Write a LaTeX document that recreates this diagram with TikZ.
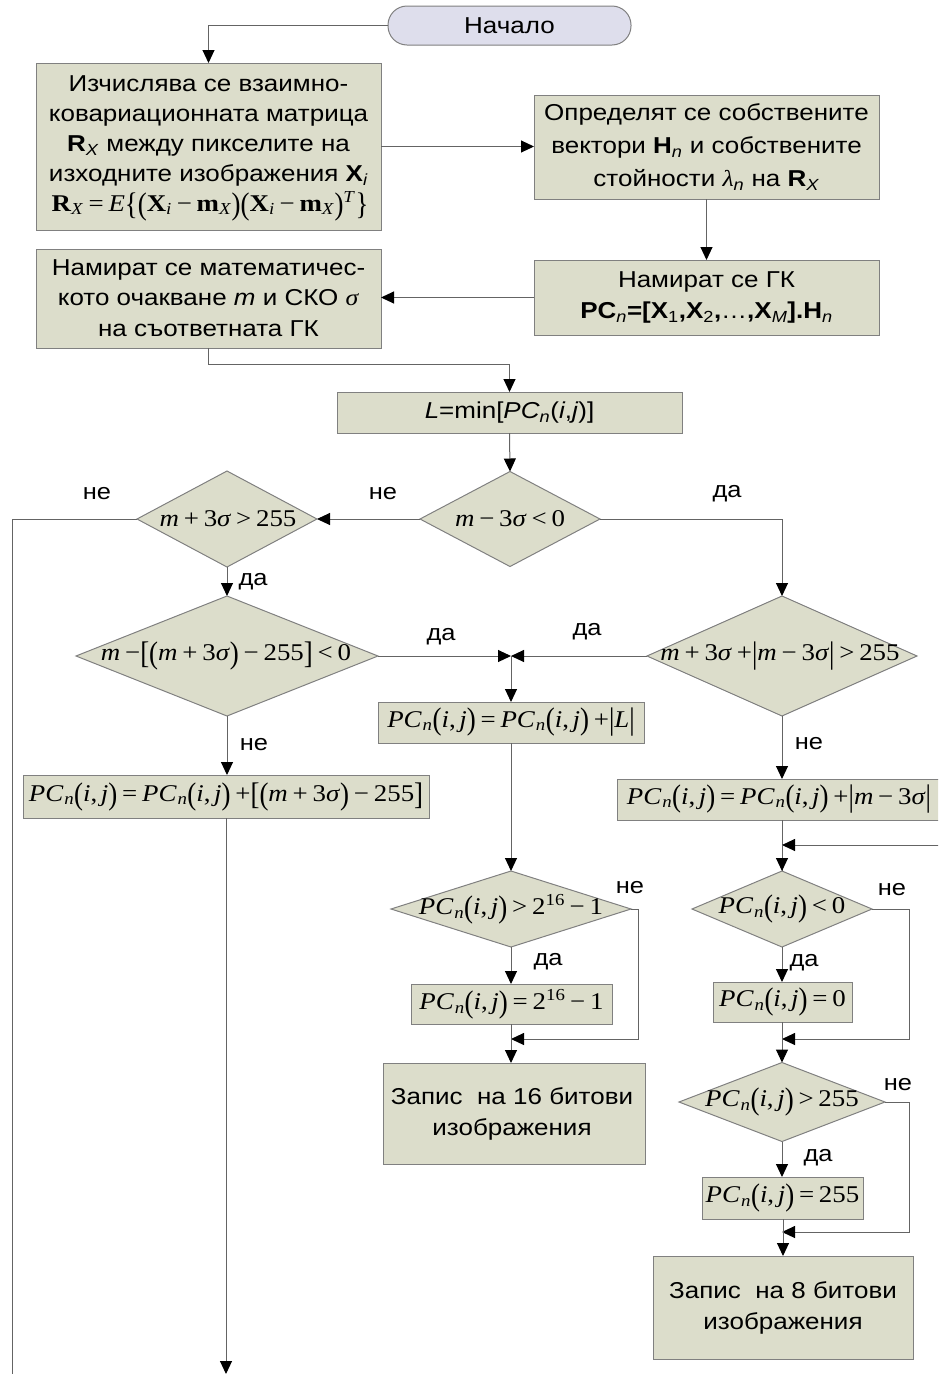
\documentclass[tikz,border=0pt]{standalone}
\usepackage{fontspec}
\setmainfont{Liberation Sans}[FakeStretch=1.13]
\newfontfamily\tnr{Liberation Serif}[FakeStretch=1.12]
\usepackage{graphicx}
\usetikzlibrary{shapes.geometric,arrows.meta}

\definecolor{boxfill}{RGB}{220,221,203}
\definecolor{startfill}{RGB}{222,222,236}
\definecolor{edgec}{RGB}{128,128,128}
\definecolor{wirec}{RGB}{100,100,100}

\newcommand\bp[1]{\raisebox{-0.12em}{\scalebox{1}[1.3]{#1}}}
\newcommand\vi[1]{\textit{#1}}
\newcommand\PCij{\vi{PC}\textsubscript{\kern0.05em\vi{n}}\bp{(}\vi{i},\kern0.15em\vi{j}\bp{)}}
\newcommand\ksp{\kern0.2em}

\tikzset{
  base/.style={draw=edgec, line width=1pt, outer sep=0pt, inner sep=0pt},
  box/.style={base, rectangle, fill=boxfill},
  dia/.style={base, diamond, fill=boxfill},
  txt/.style={font=\fontsize{23}{31}\selectfont, align=center, inner sep=0pt},
  frm/.style={font=\fontsize{24}{28}\selectfont\tnr, inner sep=0pt},
  lbl/.style={font=\fontsize{22.5}{27}\selectfont, inner sep=0pt},
  wire/.style={draw=wirec, line width=1pt},
  arr/.style={wire, -{Triangle[length=13pt,width=12pt,color=black]}},
}

\begin{document}
\begin{tikzpicture}[x=1pt,y=-1pt]
\useasboundingbox (0,0) rectangle (938,1374);
\clip (0,0) rectangle (938,1374);

% ---------- nodes ----------
\node[base, fill=startfill, rounded corners=19pt, minimum width=243pt, minimum height=39pt] (start) at (509.5,25.5) {};
\node[txt] (startt) at (start.center) {Начало};

\node[box, minimum width=345pt, minimum height=167pt] (b1) at (208.5,146.5) {};
\node[txt, font=\fontsize{23}{30}\selectfont] (b1t) at (208.5,131) {Изчислява се взаимно-\\ковариационната матрица\\\textbf{R}\textsubscript{\vi{X}} между пикселите на\\изходните изображения \textbf{X}\textsubscript{\vi{i}}};
\node[frm] (b1f) at (210,206) {\textbf{R}\textsubscript{\vi{X}}\ksp=\ksp\vi{E}\bp{\{}\bp{(}\textbf{X}\textsubscript{\vi{i}}\ksp−\ksp\textbf{m}\textsubscript{\vi{X}}\bp{)}\bp{(}\textbf{X}\textsubscript{\vi{i}}\ksp−\ksp\textbf{m}\textsubscript{\vi{X}}\bp{)}\textsuperscript{\vi{T}}\bp{\}}};

\node[box, minimum width=345pt, minimum height=104pt] (b2) at (706.5,147) {};
\node[txt, font=\fontsize{23}{33}\selectfont] (b2t) at (706.5,147) {Определят се собствените\\вектори \textbf{H}\textsubscript{\vi{n}} и собствените\\стойности {\tnr\vi{λ}}\textsubscript{\vi{n}} на \textbf{R}\textsubscript{\vi{X}}};

\node[box, minimum width=345pt, minimum height=75pt] (b3) at (706.5,297.5) {};
\node[txt] (b3t) at (706.5,297.5) {Намират се ГК\\\textbf{PC}\textsubscript{\vi{n}}\textbf{=[X}\textsubscript{1}\textbf{,X}\textsubscript{2}\textbf{,}…\textbf{,X}\textsubscript{\vi{M}}\textbf{].H}\textsubscript{\vi{n}}};

\node[box, minimum width=345pt, minimum height=99pt] (b4) at (208.5,298.5) {};
\node[txt, font=\fontsize{23}{30.5}\selectfont] (b4t) at (208.5,298) {Намират се математичес-\\кото очакване \vi{m} и СКО {\tnr\vi{σ}}\\на съответната ГК};

\node[box, minimum width=345pt, minimum height=41pt] (b5) at (509.5,412.5) {};
\node[txt] (b5t) at (509.5,412.5) {\vi{L}=min[\vi{PC}\textsubscript{\vi{n}}(\vi{i},\vi{j})]};

\node[dia, minimum width=180pt, minimum height=95pt] (d1) at (510,519) {};
\node[frm] (d1t) at (510,519) {\vi{m}\ksp−\ksp3\vi{σ}\ksp<\ksp0};

\node[dia, minimum width=180pt, minimum height=96pt] (d2) at (227,519) {};
\node[frm] (d2t) at (228,519) {\vi{m}\ksp+\ksp3\vi{σ}\ksp>\ksp255};

\node[dia, minimum width=302pt, minimum height=120pt] (d3) at (227,656) {};
\node[frm] (d3t) at (226,656) {\vi{m}\ksp−\bp{[}\bp{(}\vi{m}\ksp+\ksp3\vi{σ}\bp{)}\ksp−\ksp255\bp{]}\ksp<\ksp0};

\node[dia, minimum width=270pt, minimum height=120pt] (d4) at (782,656) {};
\node[frm] (d4t) at (780,656) {\vi{m}\ksp+\ksp3\vi{σ}\ksp+\bp{|}\vi{m}\ksp−\ksp3\vi{σ}\bp{|}\ksp>\ksp255};

\coordinate (J) at (511,656);

\node[box, minimum width=266pt, minimum height=41pt] (b6) at (511,722.5) {};
\node[frm] (b6t) at (511,722.5) {\PCij\ksp=\ksp\PCij\ksp+\bp{|}\vi{L}\bp{|}};

\node[box, minimum width=406pt, minimum height=43pt] (b7) at (226,796.5) {};
\node[frm] (b7t) at (226,796.5) {\PCij\ksp=\ksp\PCij\ksp+\bp{[}\bp{(}\vi{m}\ksp+\ksp3\vi{σ}\bp{)}\ksp−\ksp255\bp{]}};

\node[box, minimum width=323pt, minimum height=41pt] (b8) at (778.5,799.5) {};
\node[frm] (b8t) at (779,799.5) {\PCij\ksp=\ksp\PCij\ksp+\bp{|}\vi{m}\ksp−\ksp3\vi{σ}\bp{|}};

\node[dia, minimum width=240pt, minimum height=76pt] (d7) at (511,909) {};
\node[frm] (d7t) at (511,909) {\PCij\ksp>\ksp2\textsuperscript{16}\ksp−\ksp1};

\node[box, minimum width=201pt, minimum height=40pt] (b12) at (511.5,1004) {};
\node[frm] (b12t) at (511.5,1004) {\PCij\ksp=\ksp2\textsuperscript{16}\ksp−\ksp1};

\node[box, minimum width=262pt, minimum height=101pt] (b13) at (514,1113.5) {};
\node[txt] (b13t) at (512,1113.5) {Запис\ \ на 16 битови\\изображения};

\node[dia, minimum width=180pt, minimum height=76pt] (d5) at (782,909) {};
\node[frm] (d5t) at (782,909) {\PCij\ksp<\ksp0};

\node[box, minimum width=139pt, minimum height=40pt] (b9) at (782.5,1002) {};
\node[frm] (b9t) at (782.5,1002) {\PCij\ksp=\ksp0};

\node[dia, minimum width=206pt, minimum height=79pt] (d6) at (782,1102) {};
\node[frm] (d6t) at (782,1102) {\PCij\ksp>\ksp255};

\node[box, minimum width=161pt, minimum height=42pt] (b10) at (782.5,1198) {};
\node[frm] (b10t) at (782.5,1198) {\PCij\ksp=\ksp255};

\node[box, minimum width=260pt, minimum height=103pt] (b11) at (783,1307.5) {};
\node[txt] (b11t) at (783,1308) {Запис\ \ на 8 битови\\изображения};

% free ends and bends
\coordinate (leftend) at (12,1380);
\coordinate (midend) at (226,1374);
\coordinate (rightin) at (945,845);
\coordinate (k7) at (638,909);
\coordinate (j7) at (511,1039);
\coordinate (k5) at (909,909);
\coordinate (j5) at (782,1039);
\coordinate (k6) at (909,1102);
\coordinate (j6) at (782,1232);
\coordinate (j8) at (782,845);

% ---------- connectors ----------
\draw[arr] (start.west) -| (b1.north);
\draw[arr] (b1.east) -- (b1.east -| b2.west);
\draw[arr] (b2.south) -- (b3.north);
\draw[arr] (b3.west) -- (b3.west -| b4.east);
\draw[arr] (b4.south) -- ++(0,16) -| (b5.north);
\draw[arr] (b5.south) -- (d1.north);
\draw[arr] (d1.west) -- (d2.east);
\draw[wire] (d2.west) -| (leftend);
\draw[arr] (d2.south) -- (d3.north);
\draw[arr] (d1.east) -| (d4.north);
\draw[arr] (d3.east) -- (J);
\draw[arr] (d4.west) -- (J);
\draw[arr] (J) -- (b6.north -| J);
\draw[arr] (d3.south) -- (d3.south |- b7.north);
\draw[arr] (d4.south) -- (d4.south |- b8.north);
\draw[arr] (b7.south -| midend) -- (midend);
\draw[arr] (b6.south -| d7.north) -- (d7.north);
\draw[arr] (d7.east) -- (k7) |- (j7);
\draw[arr] (d7.south) -- (b12.north -| d7.south);
\draw[arr] (b12.south -| d7.south) -- (b13.north -| d7.south);
\draw[wire] (d5.north |- b8.south) -- (d5.north);
\draw[arr] (rightin) -- (j8);
\draw[arr] (j8) -- (d5.north);
\draw[arr] (d5.east) -- (k5) |- (j5);
\draw[arr] (d5.south) -- (b9.north -| d5.south);
\draw[arr] (b9.south -| d6.north) -- (d6.north);
\draw[arr] (d6.east) -- (k6) |- (j6);
\draw[arr] (d6.south) -- (b10.north -| d6.south);
\draw[arr] (b10.south -| b11.north) -- (b11.north);

% ---------- labels ----------
\node[lbl] (l1) at (383,494) {не};
\node[lbl] (l2) at (97,494) {не};
\node[lbl] (l3) at (727,494) {да};
\node[lbl] (l4) at (253,582) {да};
\node[lbl] (l5) at (441,637) {да};
\node[lbl] (l6) at (587,632) {да};
\node[lbl] (l7) at (254,745) {не};
\node[lbl] (l8) at (809,744) {не};
\node[lbl] (l9) at (630,888) {не};
\node[lbl] (l10) at (548,962) {да};
\node[lbl] (l11) at (892,890) {не};
\node[lbl] (l12) at (804,963) {да};
\node[lbl] (l13) at (898,1085) {не};
\node[lbl] (l14) at (818,1158) {да};
\end{tikzpicture}
\end{document}
